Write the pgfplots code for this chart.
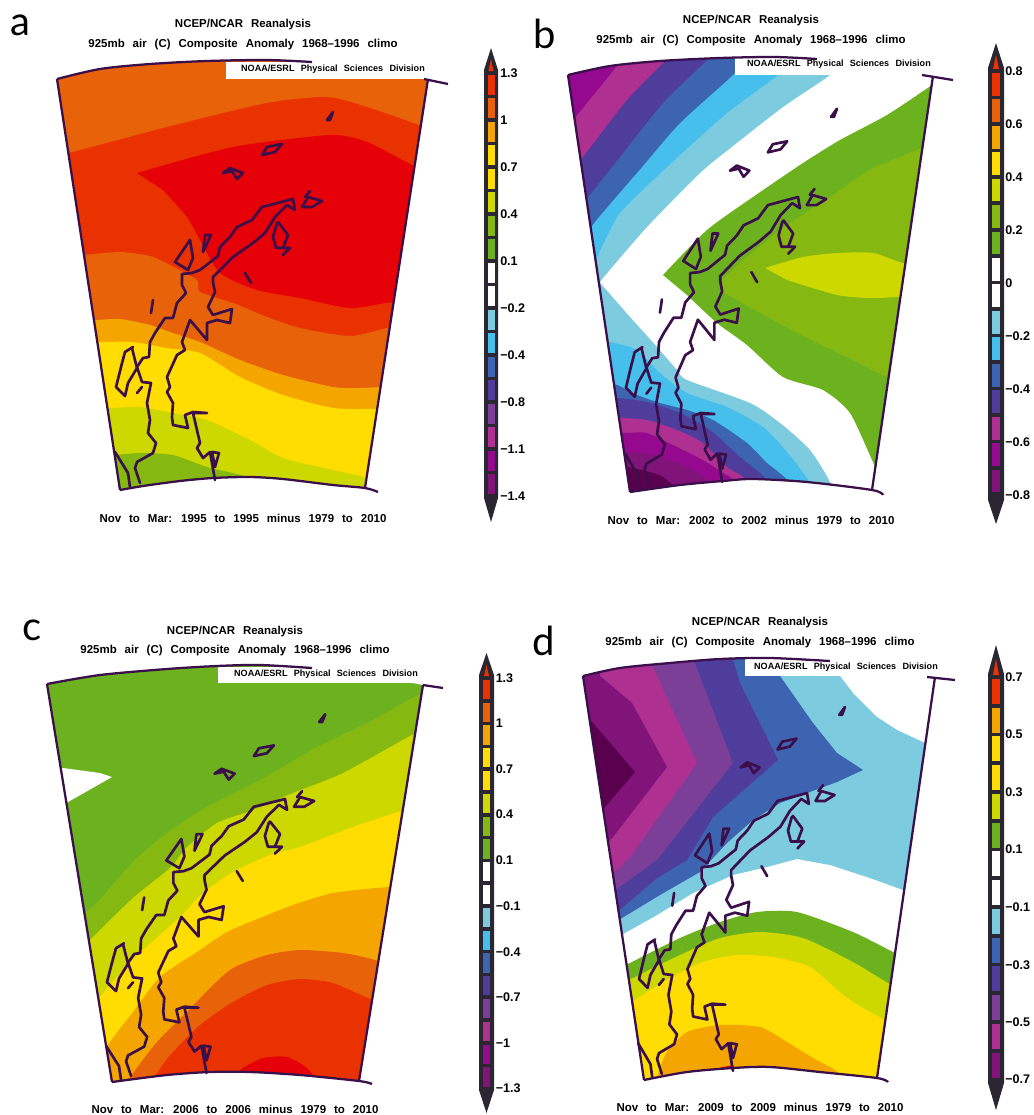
\documentclass[border=0pt]{standalone}
\usepackage{fontspec}
\setmainfont{Liberation Sans}
\newfontfamily\letterfont{Lato}
\newfontfamily\grfont[WordSpace=2.5]{Liberation Sans}
\usepackage{pgfplots}
\pgfplotsset{compat=1.18}
\definecolor{Cred}{HTML}{E60008}
\definecolor{Crdo}{HTML}{E93200}
\definecolor{Cdor}{HTML}{E8620A}
\definecolor{Cora}{HTML}{F5A500}
\definecolor{Cyel}{HTML}{FFDD00}
\definecolor{Cygr}{HTML}{CDD800}
\definecolor{Clgr}{HTML}{85B912}
\definecolor{Cgrn}{HTML}{6CB21E}
\definecolor{Clbl}{HTML}{7CCBDF}
\definecolor{Csky}{HTML}{46BFEC}
\definecolor{Cblu}{HTML}{3C64B0}
\definecolor{Cind}{HTML}{4F3D9C}
\definecolor{Cvio}{HTML}{7B3F98}
\definecolor{Cmag}{HTML}{AE3090}
\definecolor{Cpur}{HTML}{95098E}
\definecolor{Cdpu}{HTML}{801478}
\definecolor{Cdee}{HTML}{5A004F}
\definecolor{Ccst}{HTML}{3B0F4A}
\definecolor{Cbar}{HTML}{2A2632}
\newcommand\PP[2]{\addplot[fill=#1,draw=none,forget plot] coordinates {#2};}
\newcommand\PS[2]{\addplot[fill=#1,draw=none,forget plot,smooth,tension=0.4] coordinates {#2};}
\newcommand\LL[2][]{\addplot[draw=Ccst,line width=1.7pt,line join=round,forget plot,#1] coordinates {#2};}
\newcommand\cl[1]{\addplot[draw=Ccst,line width=2pt,line join=round,line cap=round,forget plot] table[header=false,row sep=\\,x expr=\tx+\sx*(\thisrowno{0}-293),y expr=\ty+\sy*(\thisrowno{1}-199)]{#1};}
\newcommand\coast[4]{%
\def\tx{#1}\def\ty{#2}\def\sx{#3}\def\sy{#4}%
\cl{293 199\\262 207\\252 220\\237 227\\230 237\\220 247\\218 256\\200 270\\192 273\\182 274\\182 285\\186 293\\177 303\\173 318\\165 318\\155 333\\150 342\\149 357\\143 358\\137 367\\142 382\\151 383\\147 403\\150 420\\148 433\\156 443\\153 453\\137 462\\135 468\\140 483\\}
\cl{293 199\\295 210\\287 205\\275 217\\265 233\\253 243\\233 257\\223 267\\213 277\\213 282\\215 292\\208 307\\213 315\\232 309\\230 323\\217 320\\207 323\\207 340\\190 320\\182 342\\185 350\\177 355\\167 377\\170 387\\167 392\\173 403\\172 417\\173 425\\188 428\\185 415\\193 412\\207 413\\193 413\\200 443\\197 448\\203 458\\210 452\\215 480\\}
\cl{212 452\\219 453\\215 467\\212 452\\}
\cl{133 347\\125 352\\121 367\\116 387\\125 396\\128 383\\137 368\\132 348\\}
\cl{115 452\\128 473\\130 487\\}
\cl{327 120\\333 112\\330 120\\327 120\\}
\cl{262 155\\267 147\\282 144\\275 152\\262 155\\}
\cl{223 173\\230 168\\243 173\\237 179\\232 171\\223 173\\}
\cl{302 207\\308 197\\322 201\\312 207\\302 207\\}
\cl{305 197\\310 191\\}
\cl{277 223\\273 237\\276 248\\283 248\\288 235\\278 222\\}
\cl{283 248\\290 248\\283 255\\}
\cl{205 235\\211 235\\203 252\\205 235\\}
\cl{190 240\\193 258\\188 270\\175 262\\190 240\\}
\cl{245 273\\251 283\\}
\cl{153 300\\151 313\\}
\cl{137 393\\142 387\\}
}
\newcommand\cbseg[2]{%
\pgfmathsetmacro\ya{\yz+\dy*#2+1.8}\pgfmathsetmacro\yb{\yz+\dy*(#2+1)-1.8}%
\edef\tmp{\noexpand\addplot[fill=#1,draw=none,forget plot] coordinates {(\il,\ya)(\ir,\ya)(\ir,\yb)(\il,\yb)};}\tmp}
\newcommand\cblab[2]{\pgfmathsetmacro\yl{\yz+#1}\edef\tmp{\noexpand\node[anchor=west,inner sep=0pt,font=\noexpand\fontsize{9.4}{10}\noexpand\bfseries\noexpand\selectfont] at (axis cs:\lx,\yl) {#2};}\tmp}
\newcommand\txt[3][8.6]{\node[inner sep=0pt,font=\grfont\fontsize{#1}{10}\bfseries\selectfont] at (axis cs:#2) {#3};}
\begin{document}
\begin{tikzpicture}
\path[use as bounding box] (0,0) rectangle (774.75pt,836.25pt);
\begin{axis}[at={(0,0)},anchor=south west,scale only axis,width=774.75pt,height=836.25pt,
 xmin=0,xmax=1033,ymin=0,ymax=1115,y dir=reverse,hide axis,clip=false]
%% PANEL A
\PP{Cdor}{(40,55)(440,55)(440,500)(100,500)}
\PS{Crdo}{(60,155)(73,152)(167,127)(267,103)(327,97)(367,107)(419,125)(445,135)(445,510)(60,510)}
\PS{Cred}{(137,173)(233,147)(330,135)(367,142)(412,165)(445,180)(445,300)(393,302)(350,308)(300,298)(257,290)(220,273)(200,240)(187,217)(163,190)}
\PS{Cdor}{(65,258)(85,255)(120,252)(150,256)(170,265)(197,280)(200,292)(233,303)(267,317)(300,328)(350,336)(390,327)(445,310)(445,510)(65,510)}
\PS{Cora}{(75,320)(97,320)(120,319)(150,325)(173,333)(200,342)(240,360)(283,375)(333,387)(360,388)(382,387)(445,385)(445,510)(75,510)}
\PS{Cyel}{(80,342)(99,342)(133,342)(167,348)(200,353)(240,377)(283,395)(333,408)(377,409)(445,410)(445,510)(80,510)}
\PS{Cygr}{(85,408)(110,408)(140,407)(173,413)(207,420)(250,440)(283,458)(333,470)(363,477)(400,490)(400,510)(85,510)}
\PS{Clgr}{(95,456)(115,455)(140,453)(173,455)(207,467)(247,477)(260,490)(95,510)}
\addplot[fill=white,draw=none,even odd rule,forget plot] coordinates {(15,25)(475,25)(475,545)(15,545)(15,25)(57,79)(100,69)(150,64)(207,61)(267,60)(312,62)(370,68)(428,79)(365,488)(333,485)(283,479)(250,477)(213,478)(180,481)(143,486)(120,490)(57,79)(15,25)};
\PP{white}{(226,62)(428,62)(428,79)(226,79)}
\LL{(57,79)(120,490)}
\LL{(428,79)(365,488)}
\LL[smooth]{(57,79)(100,69)(150,64)(207,61)(267,60)(312,62)}
\LL{(424,79)(448,84)}
\LL[smooth]{(120,490)(143,486)(180,481)(213,478)(250,477)(283,479)(333,485)(365,488)(378,492)}
\coast{293}{199}{1}{1}
%% PANEL B
\PS{Clbl}{(840,60)(830,75)(783,107)(733,146)(700,173)(647,227)(603,278)(590,295)(550,295)(550,45)(840,45)}
\PS{Csky}{(790,60)(778,75)(727,113)(667,167)(620,213)(599,253)(590,270)(550,270)(550,45)(790,45)}
\PS{Cblu}{(745,60)(733,75)(680,123)(642,167)(594,223)(585,240)(550,240)(550,45)(745,45)}
\PS{Cind}{(715,50)(707,60)(663,103)(620,157)(588,197)(580,207)(550,207)(550,45)(715,45)}
\PS{Cmag}{(670,55)(663,63)(627,100)(583,157)(575,170)(550,170)(550,45)(670,45)}
\PS{Cpur}{(620,62)(613,71)(577,115)(565,130)(550,130)(550,45)(620,45)}
\PS{Cgrn}{(663,275)(707,230)(753,197)(803,163)(840,140)(887,115)(932,85)(960,65)(960,485)(885,485)(873,462)(850,413)(823,390)(783,377)(747,345)(717,323)(687,295)}
\PS{Clgr}{(720,282)(740,263)(780,230)(830,197)(870,170)(922,148)(960,135)(960,400)(887,377)(853,360)(807,338)(760,313)(723,292)}
\PS{Cygr}{(765,268)(803,257)(837,253)(873,253)(903,263)(960,275)(960,295)(900,297)(870,298)(837,295)(787,280)}
\PS{Clbl}{(602,285)(630,317)(657,347)(677,370)(687,380)(750,403)(780,423)(810,450)(830,482)(840,510)(570,510)(570,272)(590,272)}
\PS{Csky}{(590,340)(610,342)(637,350)(660,373)(687,393)(727,407)(763,427)(787,452)(808,480)(820,510)(570,510)(570,340)}
\PS{Cblu}{(590,380)(617,385)(637,395)(660,403)(687,410)(713,420)(747,443)(767,463)(787,480)(800,510)(570,510)(570,380)}
\PS{Cind}{(590,396)(618,398)(647,402)(680,413)(710,430)(740,457)(765,478)(780,510)(570,510)(570,396)}
\PS{Cmag}{(590,416)(622,418)(647,420)(677,430)(703,443)(727,467)(745,479)(760,510)(570,510)(570,416)}
\PS{Cpur}{(590,432)(625,433)(647,433)(677,447)(703,460)(723,473)(733,480)(750,510)(570,510)(570,432)}
\PS{Cdpu}{(590,450)(627,452)(653,455)(687,467)(707,480)(730,510)(570,510)(570,450)}
\PS{Cdee}{(590,460)(628,467)(653,473)(667,480)(690,510)(570,510)(570,460)}
\addplot[fill=white,draw=none,even odd rule,forget plot] coordinates {(505,10)(985,10)(985,550)(505,550)(505,10)(568,75)(610,66)(660,61)(720,58)(775,57)(817,59)(880,66)(933,76)(872,490)(807,482)(753,479)(723,481)(680,485)(630,492)(568,75)(505,10)};
\PP{white}{(735,58)(933,58)(933,75)(735,75)}
\LL{(568,75)(630,492)}
\LL{(933,76)(872,490)}
\LL[smooth]{(568,75)(610,66)(660,61)(720,58)(775,57)(817,59)}
\LL{(922,75)(953,80)}
\LL[smooth]{(630,492)(680,485)(723,481)(753,479)(807,482)(872,490)(883,495)}
\coast{798}{197}{0.972}{1.014}
%% PANEL C
\PP{Cgrn}{(30,655)(435,655)(435,1095)(100,1095)}
\PP{white}{(55,768)(63,768)(100,773)(112,777)(68,802)(55,809)}
\PS{Clgr}{(435,690)(418,695)(367,723)(317,747)(260,780)(207,807)(167,833)(133,862)(97,903)(82,915)(70,925)(70,1100)(435,1100)}
\PS{Cygr}{(435,725)(412,735)(343,773)(293,793)(253,810)(217,823)(187,847)(170,868)(133,898)(92,938)(70,960)(70,1100)(435,1100)}
\PS{Cyel}{(435,800)(395,813)(353,827)(300,847)(270,855)(233,872)(203,893)(180,917)(160,935)(130,962)(100,997)(85,1015)(85,1100)(435,1100)}
\PS{Cora}{(435,885)(388,887)(333,893)(293,905)(260,918)(227,932)(197,952)(160,977)(133,1012)(110,1042)(95,1065)(95,1100)(435,1100)}
\PS{Cdor}{(435,980)(375,960)(343,953)(300,950)(267,955)(233,968)(210,988)(187,1012)(157,1042)(132,1075)(120,1100)(435,1100)}
\PS{Crdo}{(435,1025)(368,998)(333,983)(300,979)(267,985)(233,1002)(200,1025)(173,1052)(158,1072)(150,1100)(435,1100)}
\PS{Cred}{(230,1085)(240,1070)(263,1058)(287,1057)(307,1068)(320,1085)}
\addplot[fill=white,draw=none,even odd rule,forget plot] coordinates {(5,630)(475,630)(475,1115)(5,1115)(5,630)(47,684)(100,675)(167,669)(217,666)(260,665)(312,668)(370,675)(423,685)(359,1081)(300,1075)(250,1072)(210,1072)(167,1075)(112,1082)(47,684)(5,630)};
\PP{white}{(218,667)(423,667)(423,683)(218,683)}
\LL{(47,684)(112,1082)}
\LL{(423,685)(359,1081)}
\LL[smooth]{(47,684)(100,675)(167,669)(217,666)(260,665)(312,668)}
\LL{(423,685)(443,688)}
\LL[smooth]{(112,1082)(167,1075)(210,1072)(250,1072)(300,1075)(359,1081)(372,1084)}
\coast{285}{799}{1.006}{0.975}
%% PANEL D
\PP{Clbl}{(835,650)(840,676)(853,693)(877,717)(897,730)(925,743)(945,752)(945,895)(915,895)(903,890)(870,878)(830,865)(797,859)(767,867)(733,875)(693,893)(657,915)(625,933)(605,945)(560,945)(560,650)}
\PP{Cblu}{(780,650)(780,676)(813,723)(837,753)(863,770)(837,782)(807,793)(780,803)(753,820)(727,843)(700,872)(660,895)(622,918)(600,930)(560,930)(560,650)}
\PP{Cind}{(730,650)(740,683)(778,760)(713,817)(687,860)(657,878)(622,908)(600,920)(560,920)(560,650)}
\PP{Cvio}{(690,650)(733,763)(657,860)(618,888)(600,900)(560,900)(560,650)}
\PP{Cmag}{(645,650)(697,763)(630,857)(612,875)(560,875)(560,650)}
\PP{Cdpu}{(600,650)(600,676)(632,703)(667,767)(613,837)(595,855)(560,855)(560,650)}
\PP{Cdee}{(580,712)(592,722)(635,772)(605,807)(595,815)(580,815)}
\PS{Cgrn}{(915,963)(893,952)(853,932)(797,912)(757,912)(720,922)(680,938)(630,963)(610,975)(610,1095)(915,1095)}
\PS{Cygr}{(915,995)(888,983)(853,962)(803,938)(760,932)(720,938)(680,955)(633,978)(610,990)(610,1095)(915,1095)}
\PS{Cyel}{(915,1035)(881,1018)(847,998)(810,967)(773,957)(737,955)(703,962)(670,978)(635,1000)(610,1015)(610,1095)(915,1095)}
\PS{Cora}{(655,1085)(660,1068)(667,1052)(687,1032)(720,1025)(760,1027)(787,1042)(813,1058)(835,1070)(850,1085)}
\PP{Cred}{(700,1072)(733,1065)(735,1072)}
\addplot[fill=white,draw=none,even odd rule,forget plot] coordinates {(505,625)(985,625)(985,1115)(505,1115)(505,625)(583,676)(620,668)(670,663)(720,659)(770,658)(830,661)(880,667)(935,677)(877,1078)(820,1072)(770,1067)(733,1068)(687,1072)(644,1080)(583,676)(505,625)};
\PP{white}{(745,659)(935,659)(935,676)(745,676)}
\LL{(583,676)(644,1080)}
\LL{(935,677)(877,1078)}
\LL[smooth]{(583,676)(620,668)(670,663)(720,659)(770,658)(830,661)}
\LL{(927,677)(955,680)}
\LL[smooth]{(644,1080)(687,1072)(733,1068)(770,1067)(820,1072)(877,1078)(888,1082)}
\coast{807}{793}{0.949}{0.989}
%% COLOUR BARS
% a
\PP{Cbar}{(491,48)(498,70)(498,498)(491,522)(484,498)(484,70)}
\PP{Crdo}{(491,59)(493.5,71)(488.5,71)}
\def\il{487.5}\def\ir{494.5}\def\yz{73}\def\dy{23.5}
\cbseg{Crdo}{0}\cbseg{Cdor}{1}\cbseg{Cora}{2}\cbseg{Cyel}{3}\cbseg{Cyel}{4}\cbseg{Cygr}{5}\cbseg{Clgr}{6}\cbseg{Cgrn}{7}\cbseg{white}{8}\cbseg{white}{9}\cbseg{Clbl}{10}\cbseg{Csky}{11}\cbseg{Cblu}{12}\cbseg{Cind}{13}\cbseg{Cvio}{14}\cbseg{Cmag}{15}\cbseg{Cpur}{16}\cbseg{Cdpu}{17}
% b
\PP{Cbar}{(996,43)(1004,68)(1004,500)(996,524)(988,500)(988,68)}
\PP{Crdo}{(996,55)(999,69)(993,69)}
\def\il{992}\def\ir{1000}\def\yz{71}\def\dy{26.45}
\cbseg{Crdo}{0}\cbseg{Cdor}{1}\cbseg{Cora}{2}\cbseg{Cyel}{3}\cbseg{Cygr}{4}\cbseg{Clgr}{5}\cbseg{Cgrn}{6}\cbseg{white}{7}\cbseg{white}{8}\cbseg{Clbl}{9}\cbseg{Csky}{10}\cbseg{Cblu}{11}\cbseg{Cind}{12}\cbseg{Cmag}{13}\cbseg{Cpur}{14}\cbseg{Cdpu}{15}
% c
\PP{Cbar}{(486.5,653)(494,675)(494,1090)(486.5,1113)(479,1090)(479,675)}
\PP{Crdo}{(486.5,665)(489,676)(484,676)}
\def\il{483}\def\ir{490}\def\yz{678}\def\dy{22.8}
\cbseg{Crdo}{0}\cbseg{Cdor}{1}\cbseg{Cora}{2}\cbseg{Cyel}{3}\cbseg{Cyel}{4}\cbseg{Cygr}{5}\cbseg{Clgr}{6}\cbseg{Cgrn}{7}\cbseg{white}{8}\cbseg{white}{9}\cbseg{Clbl}{10}\cbseg{Csky}{11}\cbseg{Cblu}{12}\cbseg{Cind}{13}\cbseg{Cvio}{14}\cbseg{Cmag}{15}\cbseg{Cpur}{16}\cbseg{Cdpu}{17}
% d
\PP{Cbar}{(996,645)(1004,674)(1004,1083)(996,1110)(988,1083)(988,674)}
\PP{Crdo}{(996,659)(999,675)(993,675)}
\def\il{992}\def\ir{1000}\def\yz{677}\def\dy{28.75}
\cbseg{Crdo}{0}\cbseg{Cora}{1}\cbseg{Cyel}{2}\cbseg{Cyel}{3}\cbseg{Cygr}{4}\cbseg{Cgrn}{5}\cbseg{white}{6}\cbseg{white}{7}\cbseg{Clbl}{8}\cbseg{Cblu}{9}\cbseg{Cind}{10}\cbseg{Cvio}{11}\cbseg{Cmag}{12}\cbseg{Cdpu}{13}
%% LABELS
\def\lx{500}\def\yz{73}
\cblab{0}{1.3}\cblab{47}{1}\cblab{94}{0.7}\cblab{141}{0.4}\cblab{188}{0.1}\cblab{235}{−0.2}\cblab{282}{−0.4}\cblab{329}{−0.8}\cblab{376}{−1.1}\cblab{423}{−1.4}
\def\lx{1005}\def\yz{71}
\cblab{0}{0.8}\cblab{53}{0.6}\cblab{106}{0.4}\cblab{159}{0.2}\cblab{212}{0}\cblab{265}{−0.2}\cblab{318}{−0.4}\cblab{371}{−0.6}\cblab{424}{−0.8}
\def\lx{495.5}\def\yz{678}
\cblab{0}{1.3}\cblab{45.5}{1}\cblab{91}{0.7}\cblab{136.5}{0.4}\cblab{182}{0.1}\cblab{228}{−0.1}\cblab{274}{−0.4}\cblab{319}{−0.7}\cblab{365}{−1}\cblab{410}{−1.3}
\def\lx{1005}\def\yz{677}
\cblab{0}{0.7}\cblab{57.5}{0.5}\cblab{115}{0.3}\cblab{172}{0.1}\cblab{230}{−0.1}\cblab{288}{−0.3}\cblab{345}{−0.5}\cblab{402}{−0.7}
%% TEXT
\txt{243,25}{NCEP/NCAR Reanalysis}
\txt{243,45}{925mb air (C) Composite Anomaly 1968–1996 climo}
\txt[6.8]{333,69}{NOAA/ESRL Physical Sciences Division}
\txt{243,518}{Nov to Mar: 1995 to 1995 minus 1979 to 2010}
\txt{751,21}{NCEP/NCAR Reanalysis}
\txt{751,41}{925mb air (C) Composite Anomaly 1968–1996 climo}
\txt[6.8]{839,64}{NOAA/ESRL Physical Sciences Division}
\txt{751,520}{Nov to Mar: 2002 to 2002 minus 1979 to 2010}
\txt{235,632}{NCEP/NCAR Reanalysis}
\txt{235,651}{925mb air (C) Composite Anomaly 1968–1996 climo}
\txt[6.8]{326,674}{NOAA/ESRL Physical Sciences Division}
\txt{235,1109}{Nov to Mar: 2006 to 2006 minus 1979 to 2010}
\txt{760,623}{NCEP/NCAR Reanalysis}
\txt{760,643}{925mb air (C) Composite Anomaly 1968–1996 climo}
\txt[6.8]{846,667}{NOAA/ESRL Physical Sciences Division}
\txt{760,1107}{Nov to Mar: 2009 to 2009 minus 1979 to 2010}
\node[anchor=base,inner sep=0pt,font=\letterfont\fontsize{30}{30}\selectfont] at (axis cs:20,35) {a};
\node[anchor=base,inner sep=0pt,font=\letterfont\fontsize{30}{30}\selectfont] at (axis cs:545,48) {b};
\node[anchor=base,inner sep=0pt,font=\letterfont\fontsize{30}{30}\selectfont] at (axis cs:32,640) {c};
\node[anchor=base,inner sep=0pt,font=\letterfont\fontsize{30}{30}\selectfont] at (axis cs:544,655) {d};
\end{axis}
\end{tikzpicture}
\end{document}
